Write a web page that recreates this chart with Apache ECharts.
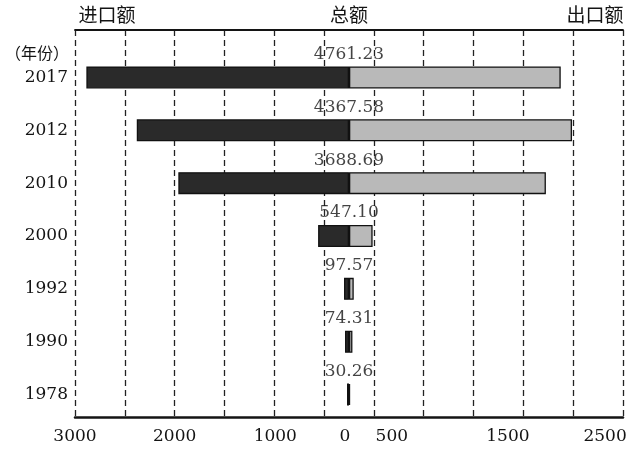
<!DOCTYPE html>
<html>
<head>
<meta charset="utf-8">
<script src="https://cdn.jsdelivr.net/npm/echarts@6/dist/echarts.min.js"></script>
<style>
html,body{margin:0;padding:0;background:#fff;}
#main{width:634px;height:449px;}
</style>
</head>
<body>
<div id="main"></div>
<script>
// ---- data ----
const years = ['2017', '2012', '2010', '2000', '1992', '1990', '1978'];
const importVals = [2636, 2130, 1713, 310, 50, 40, 20];
const exportVals = [2125, 2238, 1976, 237, 47.57, 34.31, 10.26];
const totals = [4761.23, 4367.58, 3688.69, 547.10, 97.57, 74.31, 30.26];
const tickLabels = ['3000', '2000', '1000', '0', '500', '1500', '2500'];
const tickAt = [-2750, -1750, -740, -40, 430, 1595, 2570];

const serif = '"DejaVu Serif", "Liberation Serif", serif';
const cjk = '"Noto Sans CJK SC", "Noto Sans", sans-serif';
const ink = '#141414';

const chart = echarts.init(document.getElementById('main'), null, {renderer: 'canvas'});
const XMIN = -2750, XMAX = 2750;

chart.setOption({
  animation: false,
  backgroundColor: '#fff',
  grid: [
    {left: 75, width: 548, top: 30, height: 387},
    {left: 75, width: 548, top: 51, height: 370}
  ],
  xAxis: [
    {
      gridIndex: 0, type: 'value', min: XMIN, max: XMAX, interval: 500, position: 'bottom',
      axisLine: {show: true, onZero: false, lineStyle: {color: ink, width: 2.5}},
      axisTick: {show: false},
      splitLine: {show: true, showMinLine: true, showMaxLine: true,
        lineStyle: {color: '#222', width: 1.3, type: [6, 4]}},
      axisLabel: {
        show: true, customValues: tickAt, margin: 11,
        fontFamily: serif, fontSize: 17, color: ink,
        formatter: function (v) {
          let best = 0, bd = Infinity;
          tickAt.forEach(function (t, i) { const d = Math.abs(t - v); if (d < bd) { bd = d; best = i; } });
          return tickLabels[best];
        }
      }
    },
    {
      gridIndex: 0, type: 'value', min: XMIN, max: XMAX, position: 'top',
      axisLine: {show: true, onZero: false, lineStyle: {color: ink, width: 1.8}},
      axisTick: {show: false}, axisLabel: {show: false}, splitLine: {show: false}
    },
    {
      gridIndex: 1, type: 'value', min: XMIN, max: XMAX, show: false
    }
  ],
  yAxis: [
    {gridIndex: 0, type: 'value', show: false},
    {
      gridIndex: 1, type: 'category', data: years, inverse: true,
      axisLine: {show: false}, axisTick: {show: false},
      axisLabel: {margin: 7, fontFamily: serif, fontSize: 17, color: ink}
    }
  ],
  series: [
    {
      type: 'bar', xAxisIndex: 2, yAxisIndex: 1, barWidth: 22, barGap: '-100%',
      data: importVals.map(function (v) { return -v; }),
      itemStyle: {color: '#2a2a2a', borderColor: '#111', borderWidth: 1.3}
    },
    {
      type: 'bar', xAxisIndex: 2, yAxisIndex: 1, barWidth: 22, barGap: '-100%',
      data: exportVals,
      itemStyle: {color: '#b9b9b9', borderColor: '#111', borderWidth: 1.3}
    },
    {
      type: 'scatter', xAxisIndex: 2, yAxisIndex: 1, symbolSize: 0,
      data: totals.map(function (t, i) { return [0, i]; }),
      label: {
        show: true, position: 'inside', offset: [0, -23],
        fontFamily: serif, fontSize: 17, color: ink,
        formatter: function (p) { return totals[p.dataIndex].toFixed(2); }
      }
    }
  ],
  graphic: [
    {type: 'text', x: 107, y: 15, style: {text: '进口额', fontFamily: cjk, fontSize: 19, fill: ink, align: 'center', verticalAlign: 'middle', textAlign: 'center', textVerticalAlign: 'middle'}},
    {type: 'text', x: 349, y: 15, style: {text: '总额', fontFamily: cjk, fontSize: 19, fill: ink, align: 'center', verticalAlign: 'middle', textAlign: 'center', textVerticalAlign: 'middle'}},
    {type: 'text', x: 595, y: 15, style: {text: '出口额', fontFamily: cjk, fontSize: 19, fill: ink, align: 'center', verticalAlign: 'middle', textAlign: 'center', textVerticalAlign: 'middle'}},
    {type: 'text', x: 37, y: 53, style: {text: '（年份）', fontFamily: cjk, fontSize: 16, fill: ink, align: 'center', verticalAlign: 'middle', textAlign: 'center', textVerticalAlign: 'middle'}}
  ]
});
</script>
</body>
</html>
